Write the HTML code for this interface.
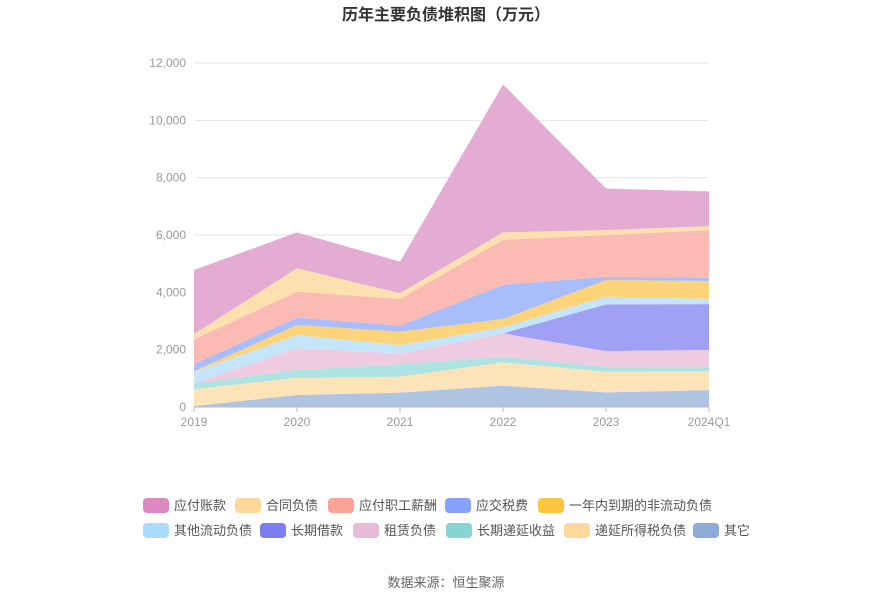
<!DOCTYPE html>
<html><head><meta charset="utf-8"><style>
body{margin:0;background:#fff;font-family:"Liberation Sans","Noto Sans CJK SC",sans-serif;}
svg text{font-family:"Liberation Sans","Noto Sans CJK SC",sans-serif;}
</style></head><body>
<svg id="c" width="893" height="603" xmlns="http://www.w3.org/2000/svg">
<text x="446" y="20" text-anchor="middle" font-size="16" font-weight="bold" fill="#333">历年主要负债堆积图（万元）</text>
<g id="grid"></g><g id="areas"></g><g id="axes"></g><g id="legend"></g>
<text x="446" y="587" text-anchor="middle" font-size="13" fill="#666">数据来源：恒生聚源</text>
</svg>
<script>
const categories=["2019","2020","2021","2022","2023","2024Q1"];
const yTicks=[0,2000,4000,6000,8000,10000,12000];
const yTickLabels=["0","2,000","4,000","6,000","8,000","10,000","12,000"];
const seriesNames=["其它","递延所得税负债","长期递延收益","租赁负债","长期借款","其他流动负债","一年内到期的非流动负债","应交税费","应付职工薪酬","合同负债","应付账款"];
const sOther=[30,420,500,745,510,590];
const sDeferredTax=[590,600,560,815,720,665];
const sDeferredIncome=[205,270,430,195,175,150];
const sLease=[0,760,380,815,545,585];
const sLongLoan=[0,0,0,0,1630,1600];
const sOtherCurrent=[405,460,290,210,270,180];
const sDueWithinYear=[20,350,470,290,580,625];
const sTaxes=[250,255,210,1190,115,115];
const sPayroll=[860,905,930,1570,1455,1660];
const sContract=[185,820,200,260,170,140];
const sPayables=[2235,1250,1100,5160,1450,1210];
const series=[sOther,sDeferredTax,sDeferredIncome,sLease,sLongLoan,sOtherCurrent,sDueWithinYear,sTaxes,sPayroll,sContract,sPayables];
const fills=["#afc3e3","#fde3b8","#ade3e3","#efcbe2","#a0a0f5","#c5e6fa","#fdd47a","#a8bdfb","#fbbab4","#fde0b0","#e4abd3"];
const legendColors=["#8eaad8","#fdd89a","#86d4d4","#e8b9d8","#7b7ef0","#a8dcf8","#fdc63e","#86a3fb","#fba395","#fdd89a","#dd88c0"];
const NS="http://www.w3.org/2000/svg";
const x0=194,x1=709,yb=407,yt=63,ymax=12000;
const xs=i=>x0+(x1-x0)*i/(categories.length-1);
const ys=v=>yb-(yb-yt)*v/ymax;
function mk(t,a,p){const e=document.createElementNS(NS,t);for(const k in a)e.setAttribute(k,a[k]);p.appendChild(e);return e;}
const g=document.getElementById('grid');
yTicks.forEach((v,i)=>{
 const l=mk('line',{x1:x0,x2:x1,y1:ys(v),y2:ys(v),stroke:'#e6e6e6'},g);
 
 
 const t=mk('text',{x:186,y:ys(v)+4,'text-anchor':'end','font-size':12,fill:'#999'},g);
 
 
 t.textContent=yTickLabels[i];
});
const ag=document.getElementById('areas');
let base=categories.map(()=>0);
series.forEach((s,k)=>{
 const top=base.map((b,i)=>b+s[i]);
 let d='M'+top.map((v,i)=>xs(i)+','+ys(v)).join('L');
 for(let i=categories.length-1;i>=0;i--)d+='L'+xs(i)+','+ys(base[i]);
 const p=mk('path',{d:d+'Z',fill:fills[k]},ag);
 
 
 base=top;
});
const ax=document.getElementById('axes');
const al=mk('line',{x1:x0,x2:x1,y1:yb,y2:yb,stroke:'#bbb'},ax);


categories.forEach((c,i)=>{
 const tk=mk('line',{x1:xs(i),x2:xs(i),y1:yb,y2:yb+5,stroke:'#bbb'},ax);
 
 
 const t=mk('text',{x:xs(i),y:426,'text-anchor':'middle','font-size':12,fill:'#999'},ax);
 
 
 t.textContent=c;
});
const lg=document.getElementById('legend');
const legendOrder=[10,9,8,7,6,5,4,3,2,1,0];
const lx=[143,235,328,445,538,143,260,353,446,564,693];
const ly=[505,505,505,505,505,530,530,530,530,530,530];
legendOrder.forEach((k,j)=>{
 const r=mk('rect',{x:lx[j],y:ly[j]-7,width:26,height:15,rx:4,fill:legendColors[k]},lg);
 
 
 const t=mk('text',{x:lx[j]+31,y:ly[j]+5,'font-size':13,fill:'#555'},lg);
 
 
 t.textContent=seriesNames[k];
});
</script>
</body></html>
